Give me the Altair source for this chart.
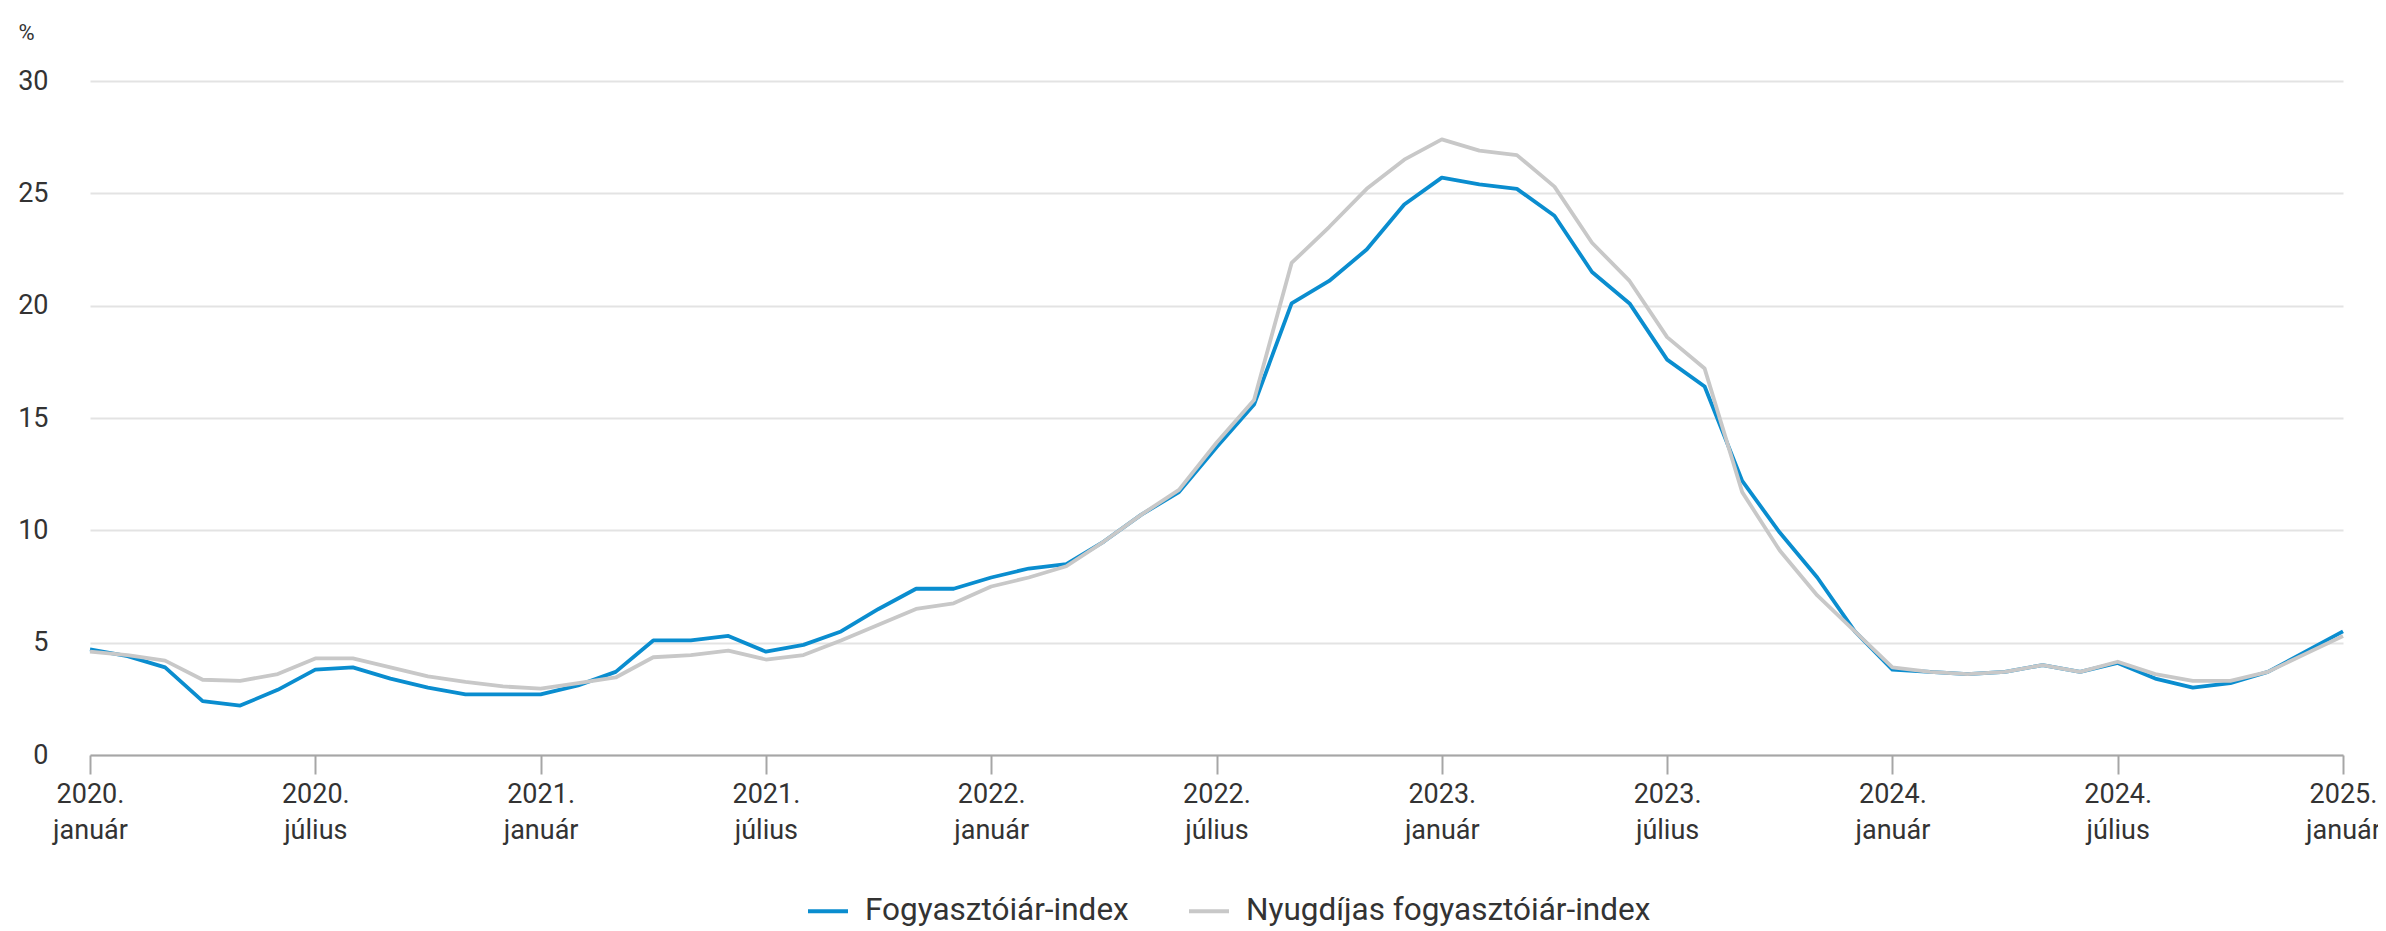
import altair as alt
import pandas as pd

honapok = ["január", "február", "március", "április", "május", "június",
           "július", "augusztus", "szeptember", "október", "november", "december"]
evek = [2020, 2021, 2022, 2023, 2024, 2025]

fogyasztoi = [4.7, 4.4, 3.9, 2.4, 2.2, 2.9, 3.8, 3.9, 3.4, 3.0, 2.7, 2.7,
              2.7, 3.1, 3.7, 5.1, 5.1, 5.3, 4.6, 4.9, 5.5, 6.5, 7.4, 7.4,
              7.9, 8.3, 8.5, 9.5, 10.7, 11.7, 13.7, 15.6, 20.1, 21.1, 22.5, 24.5,
              25.7, 25.4, 25.2, 24.0, 21.5, 20.1, 17.6, 16.4, 12.2, 9.9, 7.9, 5.5,
              3.8, 3.7, 3.6, 3.7, 4.0, 3.7, 4.1, 3.4, 3.0, 3.2, 3.7, 4.6,
              5.5]
nyugdijas = [4.6, 4.45, 4.2, 3.35, 3.3, 3.6, 4.3, 4.3, 3.9, 3.5, 3.25, 3.05,
             2.95, 3.2, 3.45, 4.35, 4.45, 4.65, 4.25, 4.45, 5.1, 5.8, 6.5, 6.75,
             7.5, 7.9, 8.4, 9.5, 10.7, 11.8, 13.9, 15.8, 21.9, 23.5, 25.2, 26.5,
             27.4, 26.9, 26.7, 25.3, 22.8, 21.1, 18.6, 17.2, 11.7, 9.1, 7.1, 5.5,
             3.9, 3.7, 3.6, 3.7, 4.0, 3.7, 4.15, 3.6, 3.3, 3.3, 3.7, 4.5,
             5.3]

sorozatok = ["Fogyasztóiár-index", "Nyugdíjas fogyasztóiár-index"]
szinek = ["#0a8dcf", "#c8c8c8"]
y_ticks = [0, 5, 10, 15, 20, 25, 30]

cimkek = [f"{ev}.|{h}" for ev in evek for h in honapok][:len(fogyasztoi)]
tick_cimkek = cimkek[::6]

rows = []
for i, c in enumerate(cimkek):
    rows.append({"honap": c, "ertek": fogyasztoi[i], "sorozat": sorozatok[0]})
    rows.append({"honap": c, "ertek": nyugdijas[i], "sorozat": sorozatok[1]})
df = pd.DataFrame(rows)

FONT = "Roboto"

chart = alt.Chart(df).mark_line(strokeWidth=3.8, strokeJoin="round").encode(
    x=alt.X("honap:O", sort=cimkek,
            scale=alt.Scale(type="point", padding=0),
            axis=alt.Axis(values=tick_cimkek, labelExpr="split(datum.value, '|')",
                          labelAngle=0, title=None, labelFontSize=27, labelFont=FONT,
                          labelColor="#333333", labelLineHeight=36, labelPadding=7,
                          labelBaseline="top", labelAlign="center",
                          labelOverlap=False, labelBound=False, labelFlush=False,
                          domainColor="#a6a6a6", domainWidth=2,
                          tickColor="#a6a6a6", tickWidth=2, tickSize=19,
                          grid=False)),
    y=alt.Y("ertek:Q", scale=alt.Scale(domain=[0, 30], nice=False),
            axis=alt.Axis(values=y_ticks, title="%", titleAngle=0,
                          titleX=-72, titleY=-49, titleAlign="left",
                          titleBaseline="middle", titleFontSize=22,
                          titleFontWeight="normal", titleFont=FONT, titleColor="#333333",
                          labelFontSize=27, labelFont=FONT, labelColor="#333333",
                          labelPadding=42, ticks=False, tickSize=0, domain=False,
                          gridColor="#e3e3e3", gridWidth=2)),
    color=alt.Color("sorozat:N", scale=alt.Scale(domain=sorozatok, range=szinek),
                    legend=alt.Legend(title=None, orient="none", legendX=716, legendY=808,
                                      direction="horizontal", symbolType="stroke",
                                      symbolStrokeWidth=4, symbolSize=1600,
                                      labelFontSize=31.5, labelFont=FONT, labelLimit=0,
                                      labelColor="#333333", columnPadding=52,
                                      labelOffset=15, padding=0)),
).properties(
    width=2253, height=674,
    autosize=alt.AutoSizeParams(type="none"),
    padding={"left": 82, "top": 73, "right": 35, "bottom": 174},
).configure_view(stroke=None)

chart.save("out.html", embed_options={"renderer": "svg", "actions": False})
